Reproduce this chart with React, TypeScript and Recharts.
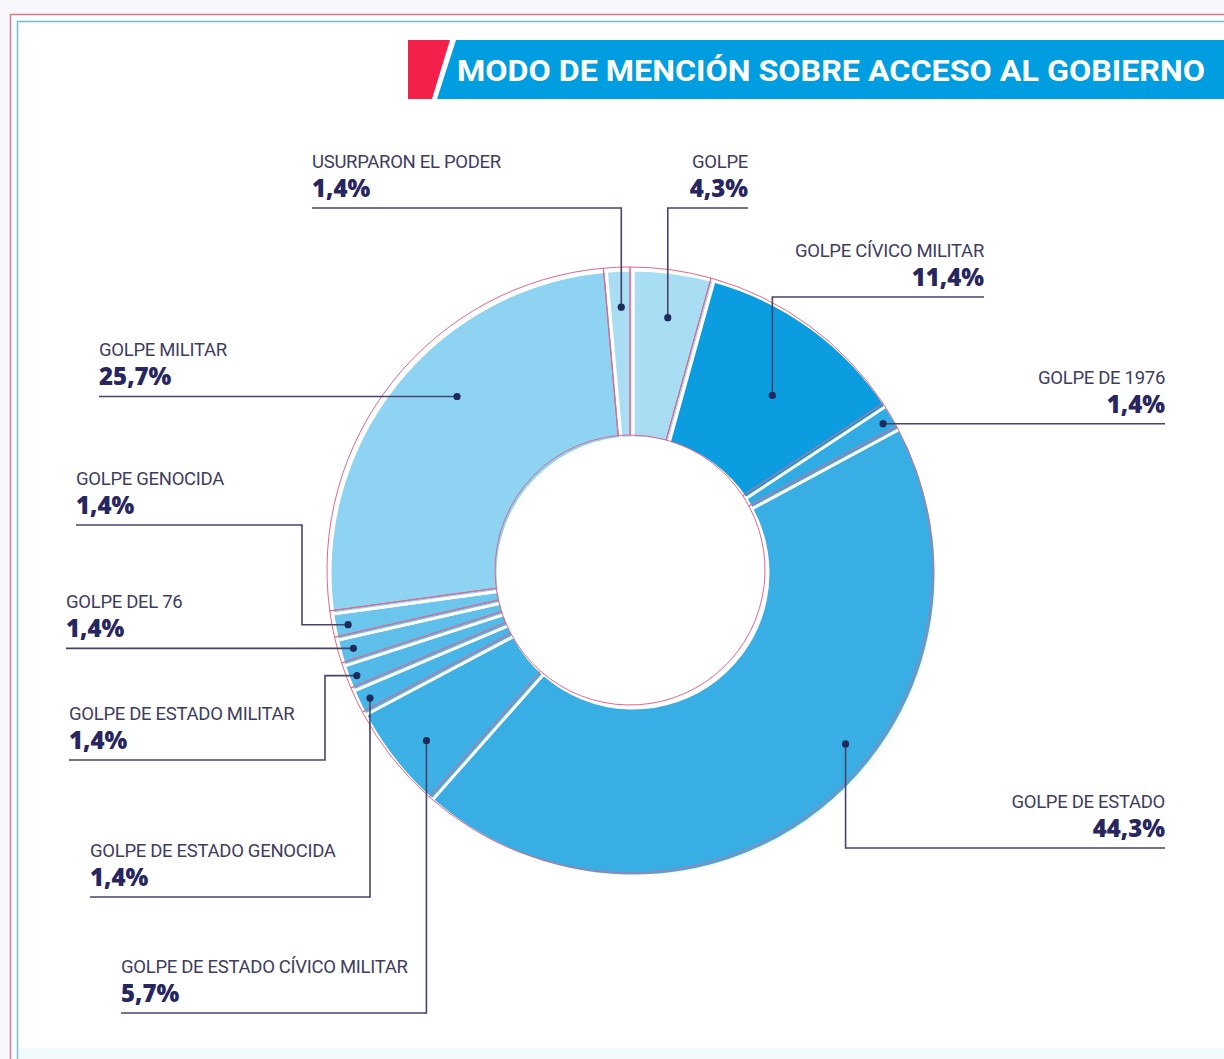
import React from 'react';
import { PieChart, Pie, Cell } from 'recharts';

// clockwise from 12 o'clock
const categories = [
  'GOLPE',
  'GOLPE CÍVICO MILITAR',
  'GOLPE DE 1976',
  'GOLPE DE ESTADO',
  'GOLPE DE ESTADO CÍVICO MILITAR',
  'GOLPE DE ESTADO GENOCIDA',
  'GOLPE DE ESTADO MILITAR',
  'GOLPE DEL 76',
  'GOLPE GENOCIDA',
  'GOLPE MILITAR',
  'USURPARON EL PODER',
];

const shares = [4.3, 11.4, 1.4, 44.3, 5.7, 1.4, 1.4, 1.4, 1.4, 25.7, 1.4];

const sliceColors = [
  '#a9ddf4',
  '#0b9de0',
  '#31abe4',
  '#38aee5',
  '#3db1e6',
  '#47b5e7',
  '#52b9e9',
  '#5ebfea',
  '#6cc5ed',
  '#8fd3f3',
  '#a9ddf4',
];

const TITLE = 'MODO DE MENCIÓN SOBRE ACCESO AL GOBIERNO';

// label placement: x = text edge, side = text alignment, lineY = underline (omit -> follows the dot),
// elbowX = corner of the leader (omit -> straight down/up to the dot), t = spot along the slice, f = depth in the ring
const labelSpots: any[] = [
  { x: 748, side: 'right', lineY: 208, t: 0.5, f: 0.73 },
  { x: 984, side: 'right', lineY: 297, t: 0.55, f: 0.54 },
  { x: 1165, side: 'right', t: 0.5, f: 0.93 },
  { x: 1165, side: 'right', lineY: 848, t: 0.42, f: 0.82 },
  { x: 121, side: 'left', lineY: 1013, t: 0.46, f: 0.78 },
  { x: 90, side: 'left', lineY: 897, t: 0.5, f: 0.93 },
  { x: 69, side: 'left', lineY: 760, elbowX: 325, t: 0.5, f: 0.95 },
  { x: 66, side: 'left', t: 0.55, f: 0.92 },
  { x: 76, side: 'left', lineY: 525, elbowX: 302, t: 0.5, f: 0.92 },
  { x: 99, side: 'left', t: 0.57, f: 0.68 },
  { x: 312, side: 'left', lineY: 208, t: 0.5, f: 0.78 },
];

const data = categories.map((name, i) => ({ name, value: shares[i] }));

const fmt = (v: number) => `${v.toFixed(1).replace('.', ',')}%`;

const renderLabel = (props: any) => {
  const { cx, cy, innerRadius, outerRadius, startAngle, endAngle, index, value } = props;
  const spot = labelSpots[index];
  const angle = startAngle + (endAngle - startAngle) * spot.t;
  const r = innerRadius + (outerRadius - innerRadius) * spot.f;
  const rad = (-angle * Math.PI) / 180;
  const dx = cx + r * Math.cos(rad);
  const dy = cy + r * Math.sin(rad);
  const lineY = spot.lineY ?? dy;
  const elbowX = spot.elbowX ?? dx;
  const anchor = spot.side === 'right' ? 'end' : 'start';
  return (
    <g key={`lbl-${index}`}>
      <path
        d={`M${spot.x},${lineY} H${elbowX} V${dy} H${dx}`}
        fill="none"
        stroke="#45446c"
        strokeWidth={1.6}
      />
      <circle cx={dx} cy={dy} r={3.6} fill="#1d2a5c" />
      <text
        x={spot.x}
        y={lineY - 40}
        textAnchor={anchor}
        fontFamily="Roboto, sans-serif"
        fontSize={18.5}
        letterSpacing={-0.3}
        fill="#3e3d60"
      >
        {categories[index]}
      </text>
      <text
        x={spot.x}
        y={lineY - 11}
        textAnchor={anchor}
        fontFamily="'Open Sans', sans-serif"
        fontWeight={800}
        fontSize={24}
        letterSpacing={0}
        fill="#28265f"
      >
        {fmt(value)}
      </text>
    </g>
  );
};

export default function App() {
  return (
    <div style={{ position: 'absolute', left: 0, top: 0, width: 1224, height: 1059, background: '#fff', overflow: 'hidden' }}>
      <svg width={1224} height={1059} style={{ position: 'absolute', left: 0, top: 0 }}>
        <rect x={0} y={0} width={1224} height={1059} fill="#f8f7fb" />
        <rect x={10.5} y={14.5} width={1240} height={1060} fill="#fff" stroke="#d9798f" strokeWidth={1.5} />
        <rect x={17.5} y={21.5} width={1240} height={1060} fill="#fff" stroke="#73bccb" strokeWidth={1.5} />
        <rect x={19} y={1048} width={1205} height={11} fill="#f0fafb" />
        <polygon points="408,40 450,40 432,99 408,99" fill="#f4204c" />
        <polygon points="456,40 1224,40 1224,99 437,99" fill="#009ee0" />
        <text
          x={457}
          y={81}
          fill="#fff"
          fontFamily="Roboto, sans-serif"
          fontWeight={700}
          fontSize={30}
          textLength={748}
          lengthAdjust="spacingAndGlyphs"
        >
          {TITLE}
        </text>
      </svg>
      <div style={{ position: 'absolute', left: 0, top: 0 }}>
        <PieChart width={1224} height={1059} margin={{ top: 0, right: 0, bottom: 0, left: 0 }}>
          <Pie
            data={data}
            dataKey="value"
            nameKey="name"
            cx={633}
            cy={573}
            innerRadius={135}
            outerRadius={303}
            startAngle={90}
            endAngle={-270}
            stroke="#ffffff"
            strokeWidth={3}
            label={renderLabel}
            labelLine={false}
            isAnimationActive={false}
          >
            {data.map((d, i) => (
              <Cell key={d.name} fill={sliceColors[i]} />
            ))}
          </Pie>
          <Pie
            data={data}
            dataKey="value"
            nameKey="name"
            cx={630}
            cy={570}
            innerRadius={135}
            outerRadius={303}
            startAngle={90}
            endAngle={-270}
            fill="none"
            stroke="#e0678a"
            strokeWidth={1}
            isAnimationActive={false}
          />
        </PieChart>
      </div>
    </div>
  );
}
